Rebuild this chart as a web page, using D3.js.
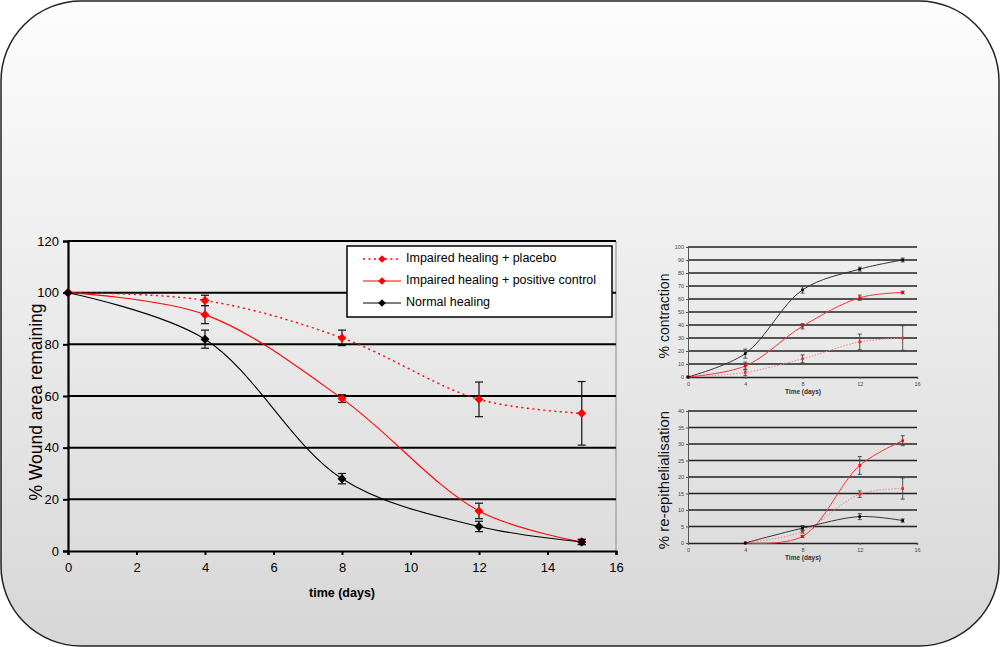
<!DOCTYPE html>
<html><head><meta charset="utf-8">
<script src="https://cdn.jsdelivr.net/npm/d3@7"></script>
<style>html,body{margin:0;padding:0;background:#fff;}svg{display:block;font-family:"Liberation Sans",Arial,sans-serif;}</style>
</head><body>
<script>
// ---------- DATA ----------
const mainDays = [0, 4, 8, 12, 15];
const mainPlacebo = [100, 97, 82.5, 58.7, 53.3];
const mainPlaceboErr = [0, 2, 3, 6.7, 12.3];
const mainPositive = [100, 91.5, 59, 15.5, 3.5];
const mainPositiveErr = [0, 3.5, 1.5, 3, 1];
const mainNormal = [100, 82, 28, 9.5, 3.5];
const mainNormalErr = [0, 3.5, 2, 2, 1];
const mainXTicks = [0, 2, 4, 6, 8, 10, 12, 14, 16];
const mainYTicks = [0, 20, 40, 60, 80, 100, 120];
const legendLabels = ["Impaired healing + placebo", "Impaired healing + positive control", "Normal healing"];

const conDays = [0, 4, 8, 12, 15];
const conNormal = [0, 18, 67, 83, 90];
const conNormalErr = [0, 3.5, 2.5, 1.5, 1.5];
const conPositive = [0, 8.5, 39, 61, 65];
const conPositiveErr = [0, 3, 2, 2, 1];
const conPlacebo = [0, 3.5, 14, 27, 30];
const conPlaceboErr = [0, 2.5, 3, 6, 9.5];
const conYTicks = [0, 10, 20, 30, 40, 50, 60, 70, 80, 90, 100];

const reDays = [4, 8, 12, 15];
const rePositive = [0, 2, 23.5, 31];
const rePositiveErr = [0, 0.3, 2.7, 1.5];
const rePlacebo = [0, 3.5, 14.8, 16.5];
const rePlaceboErr = [0, 0.5, 1, 3.2];
const reNormal = [0, 4.5, 8, 6.8];
const reNormalErr = [0, 0.8, 0.9, 0.5];
const reYTicks = [0, 5, 10, 15, 20, 25, 30, 35, 40];
const smallXTicks = [0, 4, 8, 12, 16];

// ---------- SVG ----------
const W = 1000, H = 647;
const svg = d3.select("body").append("svg").attr("width", W).attr("height", H);
const defs = svg.append("defs");
const grad = defs.append("linearGradient").attr("id", "bg").attr("x1", 0).attr("y1", 0).attr("x2", 0).attr("y2", 1);
grad.append("stop").attr("offset", "0%").attr("stop-color", "#fdfdfd");
grad.append("stop").attr("offset", "100%").attr("stop-color", "#d7d7d7");

svg.append("rect").attr("x", 1).attr("y", 1).attr("width", W - 2).attr("height", H - 2)
  .attr("rx", 80).attr("ry", 80).attr("fill", "url(#bg)").attr("stroke", "#222").attr("stroke-width", 1.5);

function zip(xs, ys, es) { return xs.map((d, i) => ({x: d, y: ys[i], e: es[i]})); }

// ---------- MAIN CHART ----------
const mx = d3.scaleLinear().domain([0, 16]).range([68, 616]);
const my = d3.scaleLinear().domain([0, 120]).range([551, 241]);
const gMain = svg.append("g");

gMain.append("line").attr("x1", mx(16)).attr("x2", mx(16)).attr("y1", my(120)).attr("y2", my(0))
  .attr("stroke", "#aaa").attr("stroke-width", 1.5);

gMain.selectAll(".grid").data(mainYTicks.filter(d => d > 0)).enter().append("line")
  .attr("x1", mx(0)).attr("x2", mx(16)).attr("y1", d => my(d)).attr("y2", d => my(d))
  .attr("stroke", "#000").attr("stroke-width", 2);

const yAx = gMain.append("g").attr("transform", `translate(${mx(0)},0)`)
  .call(d3.axisLeft(my).tickValues(mainYTicks).tickSize(5).tickPadding(4).tickFormat(d3.format("d")));
const xAx = gMain.append("g").attr("transform", `translate(0,${my(0)})`)
  .call(d3.axisBottom(mx).tickValues(mainXTicks).tickSize(4).tickPadding(8).tickFormat(d3.format("d")));
[yAx, xAx].forEach(a => {
  a.select(".domain").attr("stroke", "#000").attr("stroke-width", 2.2);
  a.selectAll(".tick line").attr("stroke", "#000").attr("stroke-width", 2);
  a.selectAll(".tick text").attr("font-size", 13).attr("fill", "#000").attr("font-family", "Liberation Sans, Arial, sans-serif");
});

gMain.append("text").attr("transform", `translate(37,402) rotate(-90)`).attr("text-anchor", "middle")
  .attr("dominant-baseline", "middle").attr("font-size", 17.5).text("% Wound area remaining");
gMain.append("text").attr("x", 342).attr("y", 597).attr("text-anchor", "middle")
  .attr("font-size", 12.5).attr("font-weight", "bold").text("time (days)");

function drawSeries(g, xs, ys, data, opt) {
  const line = d3.line().x(d => xs(d.x)).y(d => ys(d.y)).curve(d3.curveCatmullRom.alpha(0.5));
  g.append("path").datum(data).attr("d", line).attr("fill", "none")
    .attr("stroke", opt.color).attr("stroke-width", opt.width)
    .attr("stroke-dasharray", opt.dash || null);
  const eb = g.append("g");
  data.filter(d => d.e > 0).forEach(d => {
    const cx = xs(d.x), y1 = ys(d.y + d.e), y2 = ys(d.y - d.e);
    eb.append("line").attr("x1", cx).attr("x2", cx).attr("y1", y1).attr("y2", y2)
      .attr("stroke", opt.ebColor).attr("stroke-width", opt.ebWidth);
    [y1, y2].forEach(yy => eb.append("line").attr("x1", cx - opt.cap).attr("x2", cx + opt.cap)
      .attr("y1", yy).attr("y2", yy).attr("stroke", opt.ebColor).attr("stroke-width", opt.ebWidth));
  });
  g.selectAll(null).data(data).enter().append("path")
    .attr("d", d3.symbol().type(d3.symbolSquare).size(opt.msize))
    .attr("transform", d => `translate(${xs(d.x)},${ys(d.y)}) rotate(${opt.rot})`)
    .attr("fill", opt.mcolor);
}

const mainOpt = {width: 1.1, ebColor: "#111", ebWidth: 1.2, cap: 4, msize: 40, rot: 45};
drawSeries(gMain, mx, my, zip(mainDays, mainPlacebo, mainPlaceboErr), {...mainOpt, color: "#ff0000", dash: "2,3.5", mcolor: "#ff0000", width: 1.4});
drawSeries(gMain, mx, my, zip(mainDays, mainPositive, mainPositiveErr), {...mainOpt, color: "#ff0000", mcolor: "#ff0000"});
drawSeries(gMain, mx, my, zip(mainDays, mainNormal, mainNormalErr), {...mainOpt, color: "#000", mcolor: "#000"});

const lg = gMain.append("g");
lg.append("rect").attr("x", 347).attr("y", 246).attr("width", 265).attr("height", 71)
  .attr("fill", "#fff").attr("stroke", "#000").attr("stroke-width", 1.5);
const legStyles = [
  {color: "#ff0000", dash: "2,3.5", w: 1.4},
  {color: "#ff0000", dash: null, w: 1.1},
  {color: "#000", dash: null, w: 1.1}
];
legendLabels.forEach((t, i) => {
  const yy = 259 + i * 22;
  lg.append("line").attr("x1", 363).attr("x2", 401).attr("y1", yy).attr("y2", yy)
    .attr("stroke", legStyles[i].color).attr("stroke-width", legStyles[i].w).attr("stroke-dasharray", legStyles[i].dash);
  lg.append("path").attr("d", d3.symbol().type(d3.symbolSquare).size(30)())
    .attr("transform", `translate(382,${yy}) rotate(45)`).attr("fill", legStyles[i].color);
  lg.append("text").attr("x", 406).attr("y", yy).attr("dominant-baseline", "middle")
    .attr("font-size", 12.5).text(t);
});

// ---------- SMALL CHARTS ----------
function smallChart(yr, yDomain, yTicks, ylabel, ylabelY, ylabelSize, series, tickLabelY) {
  const xs = d3.scaleLinear().domain([0, 16]).range([688, 917]);
  const ys = d3.scaleLinear().domain(yDomain).range(yr);
  const g = svg.append("g");
  g.selectAll(null).data(yTicks.filter(d => d > 0)).enter().append("line")
    .attr("x1", xs(0)).attr("x2", xs(16)).attr("y1", d => ys(d)).attr("y2", d => ys(d))
    .attr("stroke", "#222").attr("stroke-width", 1.4);
  const ya = g.append("g").attr("transform", `translate(${xs(0)},0)`)
    .call(d3.axisLeft(ys).tickValues(yTicks).tickSize(2).tickPadding(2).tickFormat(d3.format("d")));
  const xa = g.append("g").attr("transform", `translate(0,${ys(yDomain[0])})`)
    .call(d3.axisBottom(xs).tickValues(smallXTicks).tickSize(2).tickPadding(3).tickFormat(d3.format("d")));
  [ya, xa].forEach(a => {
    a.select(".domain").attr("stroke", "#555").attr("stroke-width", 1);
    a.selectAll(".tick line").attr("stroke", "#555");
    a.selectAll(".tick text").attr("font-size", 5.5).attr("fill", "#444").attr("font-family", "Liberation Sans, Arial, sans-serif");
  });
  xa.select(".domain").attr("stroke", "#222").attr("stroke-width", 1.3);
  g.append("text").attr("x", 803).attr("y", tickLabelY + 8).attr("text-anchor", "middle")
    .attr("font-size", 6.5).attr("font-weight", "bold").attr("fill", "#333").text("Time (days)");
  g.append("text").attr("transform", `translate(665,${ylabelY}) rotate(-90)`).attr("text-anchor", "middle")
    .attr("dominant-baseline", "middle").attr("font-size", ylabelSize).attr("fill", "#111").text(ylabel);
  const sOpt = {ebColor: "#444", ebWidth: 0.9, cap: 2, msize: 7, rot: 0};
  series.forEach(s => drawSeries(g, xs, ys, s.data, {...sOpt, ...s.opt}));
}

smallChart([377, 247], [0, 100], conYTicks, "% contraction", 316, 14, [
  {data: zip(conDays, conPlacebo, conPlaceboErr), opt: {color: "#ff8080", dash: "1.5,1.5", width: 1, mcolor: "#ff2020"}},
  {data: zip(conDays, conPositive, conPositiveErr), opt: {color: "#ff3030", width: 1, mcolor: "#ff0000"}},
  {data: zip(conDays, conNormal, conNormalErr), opt: {color: "#333", width: 1, mcolor: "#000"}}
], 386);

smallChart([543, 411], [0, 40], reYTicks, "% re-epithelialisation", 480, 15, [
  {data: zip(reDays, rePlacebo, rePlaceboErr), opt: {color: "#ff8080", dash: "1.5,1.5", width: 1, mcolor: "#ff2020"}},
  {data: zip(reDays, rePositive, rePositiveErr), opt: {color: "#ff3030", width: 1, mcolor: "#ff0000"}},
  {data: zip(reDays, reNormal, reNormalErr), opt: {color: "#333", width: 1, mcolor: "#000"}}
], 552);
</script>
</body></html>
